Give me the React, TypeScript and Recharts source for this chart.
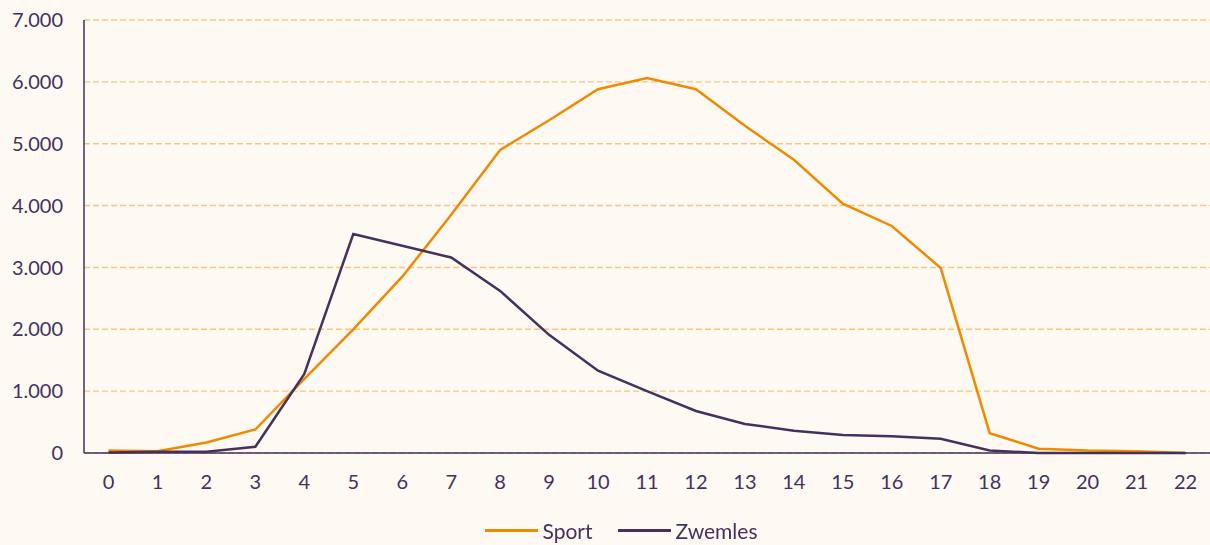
import { CartesianGrid, Line, LineChart, XAxis, YAxis } from 'recharts'

const hours = ['0', '1', '2', '3', '4', '5', '6', '7', '8', '9', '10', '11', '12', '13', '14', '15', '16', '17', '18', '19', '20', '21', '22']
const sport = [40, 30, 170, 380, 1200, 2000, 2850, 3850, 4900, 5380, 5880, 6060, 5880, 5290, 4740, 4030, 3670, 2990, 320, 70, 40, 30, 0]
const zwemles = [10, 20, 20, 100, 1280, 3540, 3350, 3160, 2620, 1910, 1330, 1000, 680, 470, 360, 290, 270, 230, 40, 0, 0, 0, 0]
const yTicks = [0, 1000, 2000, 3000, 4000, 5000, 6000, 7000]

const data = hours.map((h, i) => ({ hour: h, sport: sport[i], zwemles: zwemles[i] }))

const ORANGE = '#f18a00'
const PURPLE = '#45305e'
const TEXT = '#45305e'

const fmt = (v: number) => String(v).replace(/\B(?=(\d{3})+(?!\d))/g, '.')

function LegendBox() {
  const items = [
    { name: 'Sport', color: ORANGE },
    { name: 'Zwemles', color: PURPLE },
  ]
  return (
    <div
      style={{
        position: 'absolute',
        left: 0,
        width: 1242,
        top: 516,
        height: 28,
        display: 'flex',
        justifyContent: 'center',
        alignItems: 'center',
        gap: 25,
        fontFamily: 'Lato',
        fontSize: 21,
        color: TEXT,
      }}
    >
      {items.map((it) => (
        <div key={it.name} style={{ display: 'flex', alignItems: 'center' }}>
          <span style={{ display: 'inline-block', width: 53, height: 3, background: it.color, marginRight: 5 }} />
          <span>{it.name}</span>
        </div>
      ))}
    </div>
  )
}

export default function App() {
  return (
    <div style={{ position: 'fixed', left: 0, top: 0, width: 1210, height: 545, background: '#fff9f3' }}>
      <LineChart width={1210} height={545} data={data} margin={{ top: 20, right: 0, left: 0, bottom: 42 }}>
        <CartesianGrid horizontal vertical={false} stroke='#ffc27c' strokeDasharray='6 3' strokeWidth={1.4} />
        <XAxis
          dataKey='hour'
          padding={{ left: 24.5, right: 24.5 }}
          stroke={PURPLE}
          strokeWidth={1.5}
          tickLine={false}
          fontSize={20}
          tick={{ fill: TEXT, fontSize: 20, fontFamily: 'Lato' }}
          tickMargin={16}
          height={50}
          interval={0}
        />
        <YAxis
          domain={[0, 7000]}
          ticks={yTicks}
          stroke={PURPLE}
          strokeWidth={1.5}
          tickLine={false}
          width={84}
          fontSize={20}
          tick={{ fill: TEXT, fontSize: 20, fontFamily: 'Lato' }}
          tickMargin={15}
          tickFormatter={fmt}
        />
        <Line dataKey='sport' name='Sport' stroke={ORANGE} strokeWidth={2.5} dot={false} isAnimationActive={false} />
        <Line dataKey='zwemles' name='Zwemles' stroke={PURPLE} strokeWidth={2.5} dot={false} isAnimationActive={false} />
      </LineChart>
      <LegendBox />
    </div>
  )
}
